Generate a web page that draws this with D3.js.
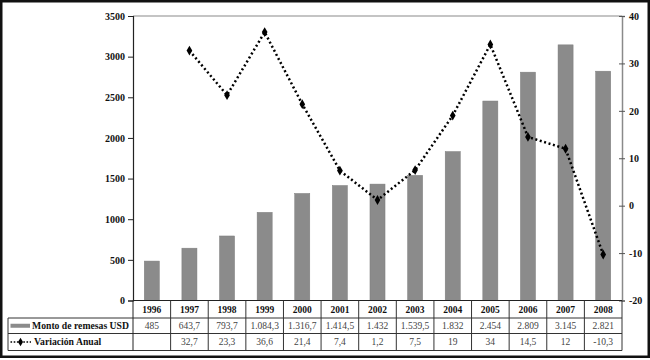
<!DOCTYPE html>
<html><head><meta charset="utf-8">
<script src="https://cdn.jsdelivr.net/npm/d3@7"></script>
<style>
html,body{margin:0;padding:0;background:#fff;}
svg{display:block;}
text{font-family:"Liberation Serif","Times New Roman",serif;}
</style></head>
<body>
<svg id="chart" width="650" height="360"></svg>
<script>
const years = ["1996","1997","1998","1999","2000","2001","2002","2003","2004","2005","2006","2007","2008"];
const remesas = [485, 643.7, 793.7, 1084.3, 1316.7, 1414.5, 1432, 1539.5, 1832, 2454, 2809, 3145, 2821];
const variacion = [null, 32.7, 23.3, 36.6, 21.4, 7.4, 1.2, 7.5, 19, 34, 14.5, 12, -10.3];
const leftTicks = [0, 500, 1000, 1500, 2000, 2500, 3000, 3500];
const rightTicks = [-20, -10, 0, 10, 20, 30, 40];
const seriesNames = ["Monto de remesas USD", "Variación Anual"];

const FF = '"Liberation Serif","Times New Roman",serif';
const svg = d3.select("#chart");
const L = 133, R = 622, T = 16, B = 300.5;
const rowY = [300.5, 318, 333.5, 350.5];
const tableLeft = 8;
const TS = 9.5;

const locale = d3.formatLocale({decimal: ",", thousands: ".", grouping: [3], currency: ["", ""], minus: "-"});
const fmt = locale.format(",.1~f");

const x = d3.scaleBand().domain(years).range([L, R]).paddingInner(0.6).paddingOuter(0.3);
const step = x.step();
const yL = d3.scaleLinear().domain([0, 3500]).range([B, T]);
const yR = d3.scaleLinear().domain([-20, 40]).range([B, T]);

// outer frame
svg.append("rect").attr("x", 1.25).attr("y", 1.25).attr("width", 647.5).attr("height", 355.5)
  .attr("fill", "#fff").attr("stroke", "#111").attr("stroke-width", 2.5);

// plot frame top (grey)
svg.append("line").attr("x1", L).attr("x2", R).attr("y1", T).attr("y2", T).attr("stroke", "#8a8a8a").attr("stroke-width", 1.2);

// bars
svg.append("g").selectAll("rect").data(remesas).join("rect")
  .attr("x", (d, i) => x(years[i]))
  .attr("width", x.bandwidth())
  .attr("y", d => yL(d))
  .attr("height", d => B - yL(d))
  .attr("fill", "#8b8b8b")
  .attr("stroke", "#7c7c7c").attr("stroke-width", 0.5);

// left axis
const gL = svg.append("g").attr("transform", `translate(${L},0)`)
  .call(d3.axisLeft(yL).tickValues(leftTicks).tickSize(5).tickPadding(3).tickFormat(d3.format("d")));
gL.attr("font-family", FF);
gL.select(".domain").attr("stroke", "#222").attr("stroke-width", 1.2);
gL.selectAll(".tick line").attr("stroke", "#222");
gL.selectAll("text").attr("font-size", 10).attr("font-weight", "bold").attr("fill", "#111").attr("font-family", FF);

// right axis
const gR = svg.append("g").attr("transform", `translate(${R},0)`)
  .call(d3.axisRight(yR).tickValues(rightTicks).tickSize(3).tickPadding(4).tickFormat(locale.format("d")));
gR.attr("font-family", FF);
gR.select(".domain").attr("stroke", "#8a8a8a").attr("stroke-width", 1.5);
gR.selectAll(".tick line").attr("x1", -3).attr("stroke", "#555");
gR.selectAll("text").attr("font-size", 10).attr("font-weight", "bold").attr("fill", "#111").attr("font-family", FF);

// line
const pts = variacion.map((v, i) => ({v, i})).filter(d => d.v !== null);
const cx = d => x(years[d.i]) + x.bandwidth() / 2;
svg.append("path").datum(pts)
  .attr("d", d3.line().x(cx).y(d => yR(d.v)))
  .attr("fill", "none").attr("stroke", "#000").attr("stroke-width", 2.5)
  .attr("stroke-dasharray", "2,2.6");
svg.append("g").selectAll("path").data(pts).join("path")
  .attr("transform", d => `translate(${cx(d)},${yR(d.v)})`)
  .attr("d", d3.symbol(d3.symbolDiamond, 28))
  .attr("fill", "#000");

// table grid
const grid = svg.append("g").attr("stroke", "#333").attr("stroke-width", 1).attr("fill", "none");
grid.append("line").attr("x1", L).attr("x2", R).attr("y1", rowY[0]).attr("y2", rowY[0]).attr("stroke", "#222").attr("stroke-width", 1.2);
grid.append("line").attr("x1", tableLeft).attr("x2", R).attr("y1", rowY[1]).attr("y2", rowY[1]);
grid.append("line").attr("x1", tableLeft).attr("x2", R).attr("y1", rowY[2]).attr("y2", rowY[2]);
grid.append("line").attr("x1", tableLeft).attr("x2", R).attr("y1", rowY[3]).attr("y2", rowY[3]);
grid.append("line").attr("x1", tableLeft).attr("x2", tableLeft).attr("y1", rowY[1]).attr("y2", rowY[3]);
grid.append("line").attr("x1", L).attr("x2", L).attr("y1", rowY[0]).attr("y2", rowY[3]).attr("stroke", "#222");
d3.range(1, years.length + 1).forEach(i => {
  const xx = L + i * step;
  grid.append("line").attr("x1", xx).attr("x2", xx).attr("y1", rowY[0]).attr("y2", rowY[3]);
});

// year labels
svg.append("g").selectAll("text").data(years).join("text")
  .attr("x", d => x(d) + x.bandwidth() / 2).attr("y", (rowY[0] + rowY[1]) / 2 + 3.4)
  .attr("text-anchor", "middle").attr("font-size", TS).attr("font-weight", "bold").attr("fill", "#111")
  .attr("font-family", FF).text(d => d);

// values rows
svg.append("g").selectAll("text").data(remesas).join("text")
  .attr("x", (d, i) => x(years[i]) + x.bandwidth() / 2).attr("y", (rowY[1] + rowY[2]) / 2 + 3.4)
  .attr("text-anchor", "middle").attr("font-size", TS).attr("fill", "#444")
  .attr("font-family", FF).text(d => fmt(d));
svg.append("g").selectAll("text").data(variacion).join("text")
  .attr("x", (d, i) => x(years[i]) + x.bandwidth() / 2).attr("y", (rowY[2] + rowY[3]) / 2 + 3.4)
  .attr("text-anchor", "middle").attr("font-size", TS).attr("fill", "#444")
  .attr("font-family", FF).text(d => d === null ? "" : fmt(d));

// legend keys in row headers
const yM = (rowY[1] + rowY[2]) / 2, yV = (rowY[2] + rowY[3]) / 2;
svg.append("rect").attr("x", 10.5).attr("y", yM - 2).attr("width", 19.5).attr("height", 4).attr("fill", "#8b8b8b");
svg.append("text").attr("x", 32).attr("y", yM + 3.4).attr("font-size", 9.7).attr("font-weight", "bold").attr("fill", "#111")
  .attr("font-family", FF).text(seriesNames[0]);
svg.append("line").attr("x1", 10.5).attr("x2", 31).attr("y1", yV).attr("y2", yV)
  .attr("stroke", "#000").attr("stroke-width", 1.6).attr("stroke-dasharray", "1.6,1.6");
svg.append("path").attr("transform", `translate(20.5,${yV})`).attr("d", d3.symbol(d3.symbolDiamond, 22)).attr("fill", "#000");
svg.append("text").attr("x", 34).attr("y", yV + 3.4).attr("font-size", 9.7).attr("font-weight", "bold").attr("fill", "#111")
  .attr("font-family", FF).text(seriesNames[1]);
</script>
</body></html>
